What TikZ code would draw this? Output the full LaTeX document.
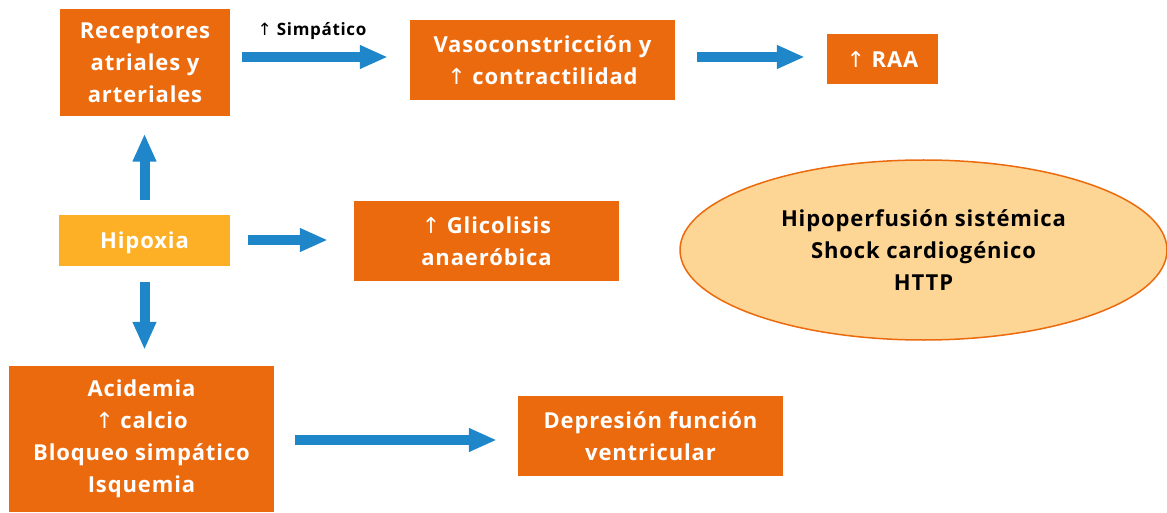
\documentclass[tikz,border=0pt]{standalone}
\usepackage{fontspec}
\setmainfont[LetterSpace=4]{Open Sans}
\newfontfamily\arrowfont{DejaVu Sans}
\newcommand\subir{{\arrowfont\mdseries ↑}}
\usetikzlibrary{arrows.meta,shapes.geometric}
\definecolor{boxorange}{RGB}{236,106,14}
\definecolor{hipyellow}{RGB}{253,175,38}
\definecolor{shockfill}{RGB}{253,213,148}
\definecolor{arrowblue}{RGB}{31,135,201}

\begin{document}
\begin{tikzpicture}[x=1pt,y=-1pt,font=\bfseries\fontsize{22}{32}\selectfont,box/.style={fill=boxorange,text=white,align=center,inner sep=0pt},flow/.style={-{Triangle[length=28pt,width=22pt]},line width=10pt,draw=arrowblue}]
\useasboundingbox (0,0) rectangle (1167,513);
\node[box,minimum width=170pt,minimum height=107pt] (rec) at (145,63) {Receptores\\atriales y\\arteriales};
\node[box,minimum width=265pt,minimum height=80pt] (vaso) at (542.5,60) {Vasoconstricción y\\\subir\ contractilidad};
\node[box,minimum width=111pt,minimum height=50pt] (raa) at (882.5,59) {\subir\ RAA};
\node[box,fill=hipyellow,minimum width=171pt,minimum height=51pt,text height=22pt] (hip) at (144.5,240.5) {Hipoxia};
\node[box,minimum width=265pt,minimum height=80pt] (gli) at (486.5,241) {\subir\ Glicolisis\\anaeróbica};
\node[ellipse,draw=boxorange,line width=1.5pt,fill=shockfill,align=center,minimum width=487pt,minimum height=180pt] (shock) at (923.5,250) {Hipoperfusión sistémica\\Shock cardiogénico\\HTTP};
\node[box,minimum width=265pt,minimum height=146pt] (aci) at (141.5,439) {Acidemia\\\subir\ calcio\\Bloqueo simpático\\Isquemia};
\node[box,minimum width=265pt,minimum height=80pt] (dep) at (650.5,436) {Depresión función\\ventricular};
% flechas
\draw[flow,shorten <=12pt,shorten >=22pt] (rec.east |- 0,57) -- (vaso.west |- 0,57) node[midway,above=9pt,xshift=-8pt,text=black,font=\bfseries\fontsize{17}{18}\selectfont] (simp) {\subir\ Simpático};
\draw[flow,shorten <=22pt,shorten >=22pt] (vaso.east |- 0,57) -- (raa.west |- 0,57);
\draw[flow,shorten <=15pt,shorten >=17pt] (hip.north) -- (hip.north |- rec.south);
\draw[flow,shorten <=18pt,shorten >=26pt] (hip.east |- 0,240) -- (gli.west |- 0,240);
\draw[flow,shorten <=16pt,shorten >=16pt] (hip.south) -- (hip.south |- aci.north);
\draw[flow,shorten <=21pt,shorten >=21pt] (aci.east |- 0,440) -- (dep.west |- 0,440);
\end{tikzpicture}
\end{document}
